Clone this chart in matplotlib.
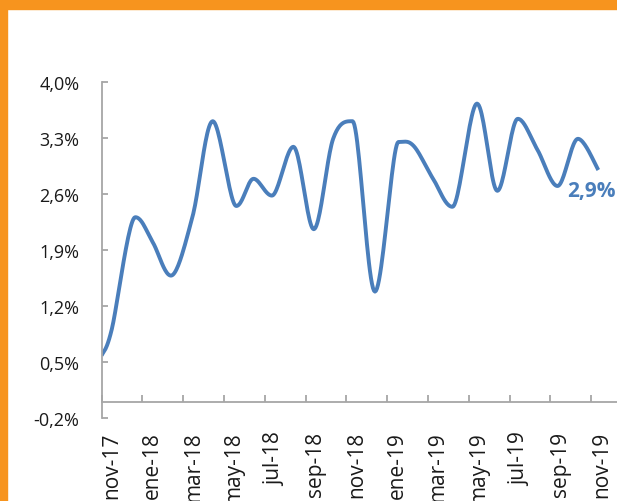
import numpy as np
import matplotlib
matplotlib.use("Agg")
from matplotlib import pyplot as plt
from matplotlib.patches import Rectangle

plt.rcParams['font.family'] = ['Open Sans', 'DejaVu Sans']

# month labels, one every two months (nov-17 .. nov-19)
month_labels = ['nov-17', 'ene-18', 'mar-18', 'may-18', 'jul-18', 'sep-18', 'nov-18',
                'ene-19', 'mar-19', 'may-19', 'jul-19', 'sep-19', 'nov-19']

# position along the monthly axis (months since nov-17) and value in %
pos = [0.0, 0.5, 1.65, 2.5, 3.4, 4.45, 5.45, 6.6, 7.45, 8.35, 9.4, 10.4, 11.35,
       12.3, 13.4, 14.55, 15.3, 16.25, 17.2, 18.4, 19.4, 20.4, 21.35, 22.35, 23.35, 24.35]
vals = [0.58, 0.91, 2.31, 2.0, 1.58, 2.31, 3.51, 2.45, 2.79, 2.58, 3.19, 2.16, 3.29,
        3.51, 1.38, 3.25, 3.2, 2.79, 2.44, 3.73, 2.64, 3.54, 3.16, 2.7, 3.29, 2.9]

y_ticks = [-0.2, 0.5, 1.2, 1.9, 2.6, 3.3, 4.0]

blue = '#4A7EBB'
grey = '#A6A6A6'
orange = '#F7941E'


def smooth(x, y, n=24):
    # bezier smoothing through the points, flat at peaks and troughs
    p = np.column_stack([x, y]).astype(float)
    m = len(p)
    tang = np.zeros_like(p)
    for i in range(m):
        a = p[max(i - 1, 0)]
        b = p[min(i + 1, m - 1)]
        tang[i] = (b - a) / 6.0
        if 0 < i < m - 1 and (p[i, 1] - a[1]) * (b[1] - p[i, 1]) <= 0:
            tang[i, 1] = 0.0
    out = []
    for i in range(m - 1):
        p1, p2 = p[i], p[i + 1]
        c1 = p1 + tang[i]
        c2 = p2 - tang[i + 1]
        t = np.linspace(0, 1, n)[:, None]
        seg = ((1 - t) ** 3) * p1 + 3 * ((1 - t) ** 2) * t * c1 + 3 * (1 - t) * t ** 2 * c2 + t ** 3 * p2
        out.append(seg if i == 0 else seg[1:])
    out = np.vstack(out)
    return out[:, 0], out[:, 1]


fig = plt.figure(figsize=(6.17, 5.02), dpi=100)
fig.patches.append(Rectangle((0, 1 - 10 / 502), 1, 10 / 502, transform=fig.transFigure,
                             color=orange, zorder=0))
fig.patches.append(Rectangle((0, 0), 7 / 617, 1, transform=fig.transFigure,
                             color=orange, zorder=0))

ax = fig.add_axes([101.6 / 617, 83 / 502, 520.2 / 617, 336 / 502])
ax.set_facecolor('none')

sx, sy = smooth(pos, vals)
ax.plot(sx, sy, color=blue, lw=2.8, solid_capstyle='butt')

ax.annotate('2,9%', (pos[-1], vals[-1]), xytext=(-5, -15), textcoords='offset points',
            ha='center', va='center', color=blue, fontsize=15, fontweight='bold')

ax.set_xlim(0, 25.5)
ax.set_ylim(-0.2, 4.0)

for s in ['top', 'right']:
    ax.spines[s].set_visible(False)
ax.spines['left'].set_color(grey)
ax.spines['left'].set_linewidth(1.3)
ax.spines['bottom'].set_color(grey)
ax.spines['bottom'].set_linewidth(1.3)
ax.spines['bottom'].set_position(('data', 0))

ax.set_yticks(y_ticks)
ax.set_yticklabels([('%.1f%%' % v).replace('.', ',') for v in y_ticks])
ax.tick_params(axis='y', direction='in', length=4.5, width=1.3, color=grey,
               pad=16, labelsize=13, labelcolor='#1a1a1a')

ax.set_xticks(np.arange(0, 25, 2))
ax.set_xticks(np.arange(0.5, 25, 2), minor=True)
ax.set_xticklabels([])
ax.set_xticklabels(month_labels, minor=True, rotation=90, ha='center', va='top')
ax.tick_params(axis='x', which='major', direction='in', length=5, width=1.3, color=grey)
ax.tick_params(axis='x', which='minor', length=0, pad=21, labelsize=15, labelcolor='#1a1a1a')

fig.savefig('out.png', dpi=100)
